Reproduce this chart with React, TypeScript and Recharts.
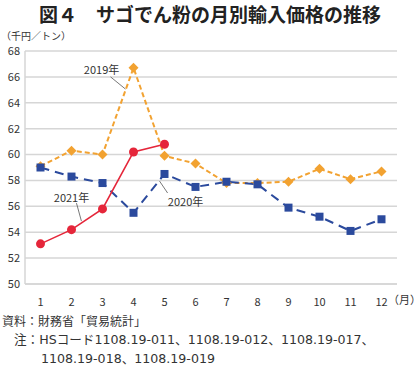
import React from "react";
import {
  LineChart,
  Line,
  XAxis,
  YAxis,
  CartesianGrid,
  ReferenceLine,
  ReferenceDot,
} from "recharts";

const months = [1, 2, 3, 4, 5, 6, 7, 8, 9, 10, 11, 12];
const y2019 = [59.1, 60.3, 60.0, 66.7, 59.9, 59.3, 57.8, 57.8, 57.9, 58.9, 58.1, 58.7];
const y2020 = [59.0, 58.3, 57.8, 55.5, 58.5, 57.5, 57.9, 57.7, 55.9, 55.2, 54.1, 55.0];
const y2021 = [53.1, 54.2, 55.8, 60.2, 60.8];
const yTicks = [50, 52, 54, 56, 58, 60, 62, 64, 66, 68];

// series labels and their leader lines, in data coordinates
const labelNames = ["2019年", "2021年", "2020年"];
const labelAt = [
  { x: 2.97, y: 66.6 },
  { x: 2.0, y: 56.7 },
  { x: 5.68, y: 56.4 },
];
const leaders = [
  [{ x: 3.26, y: 66.0 }, { x: 3.74, y: 65.06 }],
  [{ x: 2.16, y: 56.25 }, { x: 2.32, y: 54.86 }],
  [{ x: 4.84, y: 57.95 }, { x: 5.1, y: 57.03 }],
];

const data = months.map((m, i) => ({
  month: m,
  y2019: y2019[i],
  y2020: y2020[i],
  y2021: i < y2021.length ? y2021[i] : null,
}));

const FONT = '"Noto Sans CJK JP", "Noto Sans", sans-serif';
const NOTE_FONT = '"DejaVu Sans", "Noto Sans CJK JP", sans-serif';
const ORANGE = "#f2a231";
const BLUE = "#2b4a9d";
const RED = "#e5263a";
const GRID = "#d6d6d6";

function Diamond(props: any) {
  const { cx, cy } = props;
  if (cx == null || cy == null) return null;
  const s = 5;
  return (
    <polygon
      points={`${cx},${cy - s} ${cx + s},${cy} ${cx},${cy + s} ${cx - s},${cy}`}
      fill={ORANGE}
    />
  );
}

function Square(props: any) {
  const { cx, cy } = props;
  if (cx == null || cy == null) return null;
  return <rect x={cx - 4} y={cy - 4} width={8} height={8} fill={BLUE} />;
}

const labelShape = (text: string) => (p: any) =>
  (
    <text
      x={p.cx}
      y={p.cy}
      textAnchor="middle"
      dominantBaseline="central"
      fontSize={11}
      fill="#333"
      fontFamily={FONT}
    >
      {text}
    </text>
  );

export default function App() {
  return (
    <div
      style={{
        position: "absolute",
        left: 0,
        top: 0,
        width: 420,
        height: 366,
        overflow: "hidden",
        background: "#fff",
        fontFamily: FONT,
        color: "#333",
      }}
    >
      <div
        style={{
          position: "absolute",
          left: 0,
          width: 420,
          top: 1,
          textAlign: "center",
          fontSize: 19,
          fontWeight: 700,
          lineHeight: "26px",
          color: "#222",
        }}
      >
        図４　サゴでん粉の月別輸入価格の推移
      </div>
      <div style={{ position: "absolute", left: 1, top: 30, fontSize: 10, lineHeight: "12px" }}>
        （千円／トン）
      </div>
      <LineChart
        width={420}
        height={366}
        data={data}
        margin={{ top: 51, right: 23, left: 0, bottom: 52 }}
      >
        <CartesianGrid vertical={false} stroke={GRID} strokeWidth={1.5} />
        <XAxis
          dataKey="month"
          type="number"
          domain={[0.5, 12.5]}
          ticks={months}
          tickLine={false}
          axisLine={{ stroke: GRID, strokeWidth: 1.5 }}
          tickMargin={8}
          tick={{ fontSize: 11, fill: "#333", fontFamily: FONT }}
          interval={0}
        />
        <YAxis
          width={25}
          domain={[50, 68]}
          ticks={yTicks}
          tickLine={false}
          tickSize={0}
          tickMargin={5}
          axisLine={{ stroke: GRID, strokeWidth: 1.5 }}
          tick={{ fontSize: 11, fill: "#333", fontFamily: FONT }}
          interval={0}
        />
        {leaders.map((seg, i) => (
          <ReferenceLine key={"l" + i} segment={seg} stroke="#555" strokeWidth={0.8} />
        ))}
        <Line
          dataKey="y2019"
          stroke={ORANGE}
          strokeWidth={2}
          strokeDasharray="5 3"
          dot={<Diamond />}
          isAnimationActive={false}
        />
        <Line
          dataKey="y2020"
          stroke={BLUE}
          strokeWidth={2}
          strokeDasharray="9 6"
          dot={<Square />}
          isAnimationActive={false}
        />
        <Line
          dataKey="y2021"
          stroke={RED}
          strokeWidth={1.6}
          dot={{ r: 4.5, fill: RED, stroke: RED, strokeWidth: 0 }}
          connectNulls={false}
          isAnimationActive={false}
        />
        {labelNames.map((t, i) => (
          <ReferenceDot
            key={"t" + i}
            x={labelAt[i].x}
            y={labelAt[i].y}
            r={0}
            shape={labelShape(t)}
          />
        ))}
      </LineChart>
      <div
        style={{
          position: "absolute",
          left: 388,
          top: 291,
          fontSize: 11,
          lineHeight: "16px",
          whiteSpace: "nowrap",
        }}
      >
        （月）
      </div>
      <div
        style={{
          position: "absolute",
          left: 2,
          top: 311,
          fontSize: 12,
          lineHeight: "19px",
          whiteSpace: "nowrap",
        }}
      >
        資料：財務省「貿易統計」
      </div>
      <div
        style={{
          position: "absolute",
          left: 14,
          top: 330,
          fontSize: 12.6,
          lineHeight: "19px",
          whiteSpace: "nowrap",
          fontFamily: NOTE_FONT,
        }}
      >
        注：HSコード1108.19-011、1108.19-012、1108.19-017、
        <br />
        <span style={{ paddingLeft: 27 }}>1108.19-018、1108.19-019</span>
      </div>
    </div>
  );
}
